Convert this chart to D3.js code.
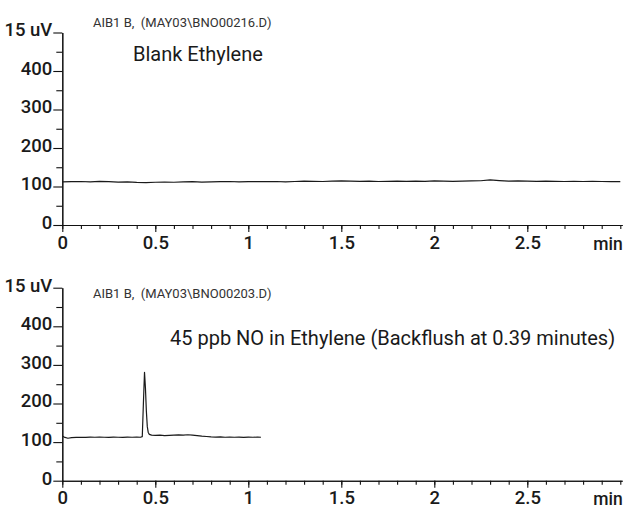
<!DOCTYPE html>
<html>
<head>
<meta charset="utf-8">
<script src="https://cdn.jsdelivr.net/npm/d3@7"></script>
<style>
  body { margin: 0; background: #fff; }
  svg { display: block; }
</style>
</head>
<body>
<script>
// blank run, sampled every 0.05 min
const blankTimes = [
  0, 0.05, 0.1, 0.15, 0.2, 0.25, 0.3, 0.35, 0.4, 0.45,
  0.5, 0.55, 0.6, 0.65, 0.7, 0.75, 0.8, 0.85, 0.9, 0.95,
  1, 1.05, 1.1, 1.15, 1.2, 1.25, 1.3, 1.35, 1.4, 1.45,
  1.5, 1.55, 1.6, 1.65, 1.7, 1.75, 1.8, 1.85, 1.9, 1.95,
  2, 2.05, 2.1, 2.15, 2.2, 2.25, 2.3, 2.35, 2.4, 2.45,
  2.5, 2.55, 2.6, 2.65, 2.7, 2.75, 2.8, 2.85, 2.9, 2.95, 3
];
const blankValues = [
  112, 112.5, 113, 112, 113.5, 112.5, 111.5, 112, 110.5, 110,
  111, 111.5, 111, 112, 112.5, 111.5, 112, 112.5, 113, 112,
  112.5, 113, 112.5, 113, 112, 113, 114, 113.5, 113, 114,
  114.5, 114, 113.5, 114, 113, 113.5, 114, 113.5, 114, 113.5,
  114.5, 114, 113.5, 114, 114.5, 115, 117, 115.5, 114, 114.5,
  114, 113.5, 114, 113.5, 113, 113.5, 113, 113.5, 113, 112.5, 112.5
];

// NO sample run, backflushed so it stops early
const sampleTimes = [
  0, 0.01, 0.03, 0.05, 0.075, 0.1, 0.125, 0.15, 0.175, 0.2,
  0.225, 0.25, 0.275, 0.3, 0.325, 0.35, 0.375, 0.4, 0.42, 0.43,
  0.436, 0.442, 0.447, 0.452, 0.457, 0.462, 0.468, 0.48, 0.5, 0.525,
  0.55, 0.575, 0.6, 0.625, 0.65, 0.675, 0.7, 0.725, 0.75, 0.775,
  0.8, 0.825, 0.85, 0.875, 0.9, 0.925, 0.95, 0.975, 1, 1.025,
  1.05, 1.068
];
const sampleValues = [
  115.5, 113, 110, 111.5, 112, 112.5, 112, 113, 112.5, 113,
  112.5, 112, 113, 112.5, 112, 113, 112.5, 113, 112.5, 114,
  200, 281, 240, 180, 140, 125, 120, 118, 117.5, 118,
  117, 117.5, 118, 118.5, 118, 119, 118, 117, 115.5, 114.5,
  113.5, 113, 113.5, 112.5, 113, 112.5, 113, 112, 113, 112.5,
  113, 112.5
];

const xMajorTicks = [0, 0.5, 1, 1.5, 2, 2.5];
const xMinorTicks = d3.range(0, 3.0001, 0.1).map((d) => +d.toFixed(1));
const yMajorTicks = [0, 100, 200, 300, 400, 500];
const yMinorTicks = [50, 150, 250, 350, 450];
const yTickLabels = ["0", "100", "200", "300", "400", "15 uV"];

const panels = [
  {
    header: "AIB1 B,  (MAY03\\BNO00216.D)",
    title: "Blank Ethylene",
    times: blankTimes,
    values: blankValues,
    top: 32.5,
    bottom: 225,
    headerY: 26.5,
    titleX: 133,
    titleY: 61,
  },
  {
    header: "AIB1 B,  (MAY03\\BNO00203.D)",
    title: "45 ppb NO in Ethylene (Backflush at 0.39 minutes)",
    times: sampleTimes,
    values: sampleValues,
    top: 287.7,
    bottom: 480.7,
    headerY: 298,
    titleX: 170,
    titleY: 345,
  },
];

const width = 624;
const height = 508;
const left = 62.3;
const pxPerMin = 186;
const font = "Roboto, 'Liberation Sans', sans-serif";

const svg = d3
  .select("body")
  .append("svg")
  .attr("width", width)
  .attr("height", height)
  .attr("viewBox", `0 0 ${width} ${height}`);

const x = d3
  .scaleLinear()
  .domain([0, 3.01])
  .range([left, left + 3.01 * pxPerMin]);

panels.forEach((p) => {
  const g = svg.append("g");

  const y = d3.scaleLinear().domain([0, 500]).range([p.bottom, p.top]);

  // x axis: minor ticks every 0.1, longer labelled ticks every 0.5
  g.append("g")
    .attr("transform", `translate(0 ${p.bottom})`)
    .call(d3.axisBottom(x).tickValues(xMinorTicks).tickSize(4).tickSizeOuter(0).tickFormat(""));
  g.append("g")
    .attr("class", "x-major")
    .attr("transform", `translate(0 ${p.bottom})`)
    .call(
      d3.axisBottom(x).tickValues(xMajorTicks).tickSize(7).tickSizeOuter(0).tickPadding(4)
        .tickFormat((d) => String(d))
    );

  g.append("text")
    .attr("x", 608)
    .attr("y", p.bottom + 24.5)
    .attr("text-anchor", "middle")
    .attr("font-size", 17.5)
    .attr("font-weight", 500)
    .attr("fill", "#1a1a1a")
    .text("min");

  // y axis
  g.append("g")
    .attr("transform", `translate(${left} 0)`)
    .call(d3.axisLeft(y).tickValues(yMinorTicks).tickSize(6).tickSizeOuter(0).tickFormat(""));
  const yMajor = g
    .append("g")
    .attr("transform", `translate(${left} 0)`)
    .call(
      d3.axisLeft(y).tickValues(yMajorTicks).tickSize(9).tickSizeOuter(0).tickPadding(1)
        .tickFormat((d, i) => yTickLabels[i])
    );
  yMajor.selectAll(".tick text").attr("dy", "0.18em");

  g.selectAll(".domain, .tick line").attr("stroke", "#111").attr("stroke-width", 1.1);
  g.selectAll(".tick text")
    .attr("font-family", font)
    .attr("font-size", 18.5)
    .attr("font-weight", 500)
    .attr("fill", "#1a1a1a");
  g.selectAll(".x-major .tick text").attr("dy", "0.68em");

  // trace
  const line = d3
    .line()
    .x((d, i) => x(p.times[i]))
    .y((d) => y(d));

  g.append("path")
    .datum(p.values)
    .attr("fill", "none")
    .attr("stroke", "#1a1a1a")
    .attr("stroke-width", 1.2)
    .attr("stroke-linejoin", "round")
    .attr("d", line);

  g.append("text")
    .attr("x", 93)
    .attr("y", p.headerY)
    .attr("font-size", 13)
    .attr("fill", "#333")
    .text(p.header);

  g.append("text")
    .attr("x", p.titleX)
    .attr("y", p.titleY)
    .attr("font-size", 20)
    .attr("fill", "#1a1a1a")
    .text(p.title);
});

svg.selectAll("text").attr("font-family", font).style("white-space", "pre");
</script>
</body>
</html>
